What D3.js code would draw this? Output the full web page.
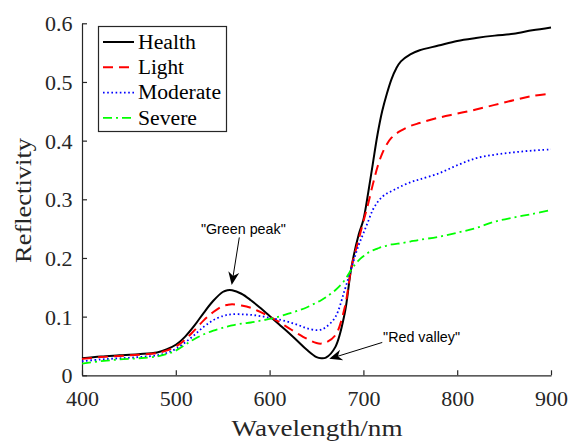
<!DOCTYPE html>
<html><head><meta charset="utf-8">
<script src="https://cdn.jsdelivr.net/npm/d3@7"></script>
<style>body{margin:0;background:#fff}svg{display:block}
.serif{font-family:"Liberation Serif","Times New Roman",Times,serif}
.sans{font-family:"Liberation Sans",Arial,Helvetica,sans-serif}
</style>
</head><body>
<svg id="c" width="569" height="442"></svg>
<script>
const wavelengths = [400,420,440,460,480,490,500,510,520,530,540,550,555,560,570,580,590,600,610,620,630,640,650,655,660,670,680,687,695,700,705,710,715,720,725,730,735,740,750,760,780,800,820,840,860,880,900];
const health   = [0.029,0.032,0.034,0.036,0.039,0.044,0.052,0.066,0.085,0.107,0.127,0.142,0.145,0.145,0.139,0.128,0.115,0.101,0.087,0.073,0.058,0.043,0.031,0.029,0.030,0.048,0.105,0.182,0.240,0.265,0.310,0.360,0.410,0.450,0.480,0.505,0.523,0.535,0.547,0.554,0.562,0.570,0.575,0.579,0.582,0.588,0.593];
const light    = [0.028,0.031,0.033,0.035,0.038,0.042,0.049,0.061,0.077,0.094,0.108,0.118,0.120,0.121,0.119,0.115,0.108,0.100,0.091,0.081,0.071,0.062,0.055,0.054,0.056,0.068,0.115,0.182,0.232,0.262,0.292,0.325,0.355,0.378,0.394,0.405,0.412,0.417,0.425,0.430,0.439,0.446,0.453,0.461,0.469,0.476,0.480];
const moderate = [0.024,0.027,0.029,0.031,0.034,0.038,0.045,0.056,0.069,0.083,0.094,0.101,0.103,0.104,0.104,0.103,0.101,0.098,0.095,0.091,0.086,0.080,0.077,0.078,0.082,0.099,0.145,0.182,0.222,0.242,0.262,0.282,0.295,0.304,0.310,0.314,0.318,0.322,0.329,0.334,0.344,0.358,0.370,0.376,0.380,0.383,0.385];
const severe   = [0.020,0.024,0.027,0.029,0.032,0.036,0.042,0.052,0.062,0.070,0.076,0.081,0.083,0.085,0.088,0.090,0.093,0.096,0.100,0.105,0.110,0.116,0.124,0.128,0.133,0.145,0.162,0.180,0.196,0.203,0.209,0.213,0.216,0.219,0.221,0.223,0.224,0.225,0.228,0.231,0.236,0.243,0.251,0.262,0.269,0.275,0.282];
const seriesNames = ["Health","Light","Moderate","Severe"];
const xTicks = [400,500,600,700,800,900];
const yTicks = [0,0.1,0.2,0.3,0.4,0.5,0.6];
const xTitle = "Wavelength/nm";
const yTitle = "Reflectivity";
const annoText = ['"Green peak"','"Red valley"'];
const annoTextPos = [[572,0.241],[762,0.057]];
const annoTail = [[567.7,0.235],[720.1,0.056]];
const annoTip = [[559.6,0.154],[663.6,0.028]];

const seriesValues = [health, light, moderate, severe];
const styles = [
  {color:"#000000", dash:null, w:2},
  {color:"#ff0000", dash:"10,6", w:2},
  {color:"#0000ff", dash:"1.6,2.6", w:1.8},
  {color:"#00ff00", dash:"9,4,2,4", w:1.8}
];

const svg = d3.select("#c");
const x = d3.scaleLinear().domain([400,900]).range([82,551]);
const y = d3.scaleLinear().domain([0,0.6]).range([375.3,23.3]);
const axisCol = "#262626";

const gx = svg.append("g").attr("transform",`translate(0,${y(0)})`)
  .call(d3.axisBottom(x).tickValues(xTicks).tickSizeInner(-5).tickSizeOuter(0));
const gy = svg.append("g").attr("transform",`translate(${x(400)},0)`)
  .call(d3.axisLeft(y).tickValues(yTicks).tickFormat(d=>d===0?"0":d3.format(".1f")(d)).tickSizeInner(-5).tickSizeOuter(0));
[gx,gy].forEach(g=>{
  g.attr("font-family",null).attr("font-size",null);
  g.select(".domain").attr("stroke",axisCol).attr("stroke-width",1.2);
  g.selectAll(".tick line").attr("stroke",axisCol).attr("stroke-width",1.2);
  g.selectAll(".tick text").attr("class","serif").attr("fill",axisCol).style("font-size","22px");
});
gx.selectAll(".tick text").attr("y",15.5).attr("dy","0.71em");
gy.selectAll(".tick text").attr("x",-9.5).attr("dy","0.34em");

svg.append("text").attr("class","serif").attr("x",(x(400)+x(900))/2+0.5).attr("y",436).attr("text-anchor","middle")
  .style("font-size","23px").attr("fill",axisCol)
  .attr("textLength",171).attr("lengthAdjust","spacingAndGlyphs").text(xTitle);
svg.append("text").attr("class","serif").attr("transform",`translate(31,${(138+263)/2}) rotate(-90)`).attr("text-anchor","middle")
  .style("font-size","23px").attr("fill",axisCol)
  .attr("textLength",125).attr("lengthAdjust","spacingAndGlyphs").text(yTitle);

const line = d3.line().x((d,i)=>x(wavelengths[i])).y(d=>y(d)).curve(d3.curveCatmullRom.alpha(0.5));
seriesValues.forEach((vals,k)=>{
  svg.append("path").datum(vals).attr("d",line).attr("fill","none")
    .attr("stroke",styles[k].color).attr("stroke-width",styles[k].w)
    .attr("stroke-dasharray",styles[k].dash).attr("stroke-linejoin","round");
});

annoText.forEach((t,i)=>{
  svg.append("text").attr("class","sans").attr("x",x(annoTextPos[i][0])).attr("y",y(annoTextPos[i][1]))
    .attr("text-anchor","middle").style("font-size","14.3px").attr("fill","#000").text(t);
  const x1=x(annoTail[i][0]), y1=y(annoTail[i][1]), x2=x(annoTip[i][0]), y2=y(annoTip[i][1]);
  const ang=Math.atan2(y2-y1,x2-x1), L=13, W=5.5, back=9;
  const ux=Math.cos(ang), uy=Math.sin(ang), px=-uy, py=ux;
  const bx=x2-ux*L, by=y2-uy*L;
  svg.append("line").attr("x1",x1).attr("y1",y1).attr("x2",x2-ux*back).attr("y2",y2-uy*back)
    .attr("stroke","#000").attr("stroke-width",1);
  const pts=[[x2,y2],[bx+px*W,by+py*W],[x2-ux*back,y2-uy*back],[bx-px*W,by-py*W]];
  svg.append("path").attr("d","M"+pts.map(p=>p.join(",")).join("L")+"Z").attr("fill","#000");
});

const lg = svg.append("g");
lg.append("rect").attr("x",98.5).attr("y",26.5).attr("width",128).attr("height",105)
  .attr("fill","#fff").attr("stroke",axisCol).attr("stroke-width",1.2);
const legW=[58,46,83,59];
seriesNames.forEach((n,k)=>{
  const cy = 42 + k*25.3;
  lg.append("line").attr("x1",103).attr("x2",134).attr("y1",cy).attr("y2",cy)
    .attr("stroke",styles[k].color).attr("stroke-width",styles[k].w).attr("stroke-dasharray",styles[k].dash);
  lg.append("text").attr("class","serif").attr("x",138).attr("y",cy).attr("dy","0.34em")
    .style("font-size","20px").attr("fill","#000")
    .attr("textLength",legW[k]).attr("lengthAdjust","spacingAndGlyphs").text(n);
});
</script>
</body></html>
